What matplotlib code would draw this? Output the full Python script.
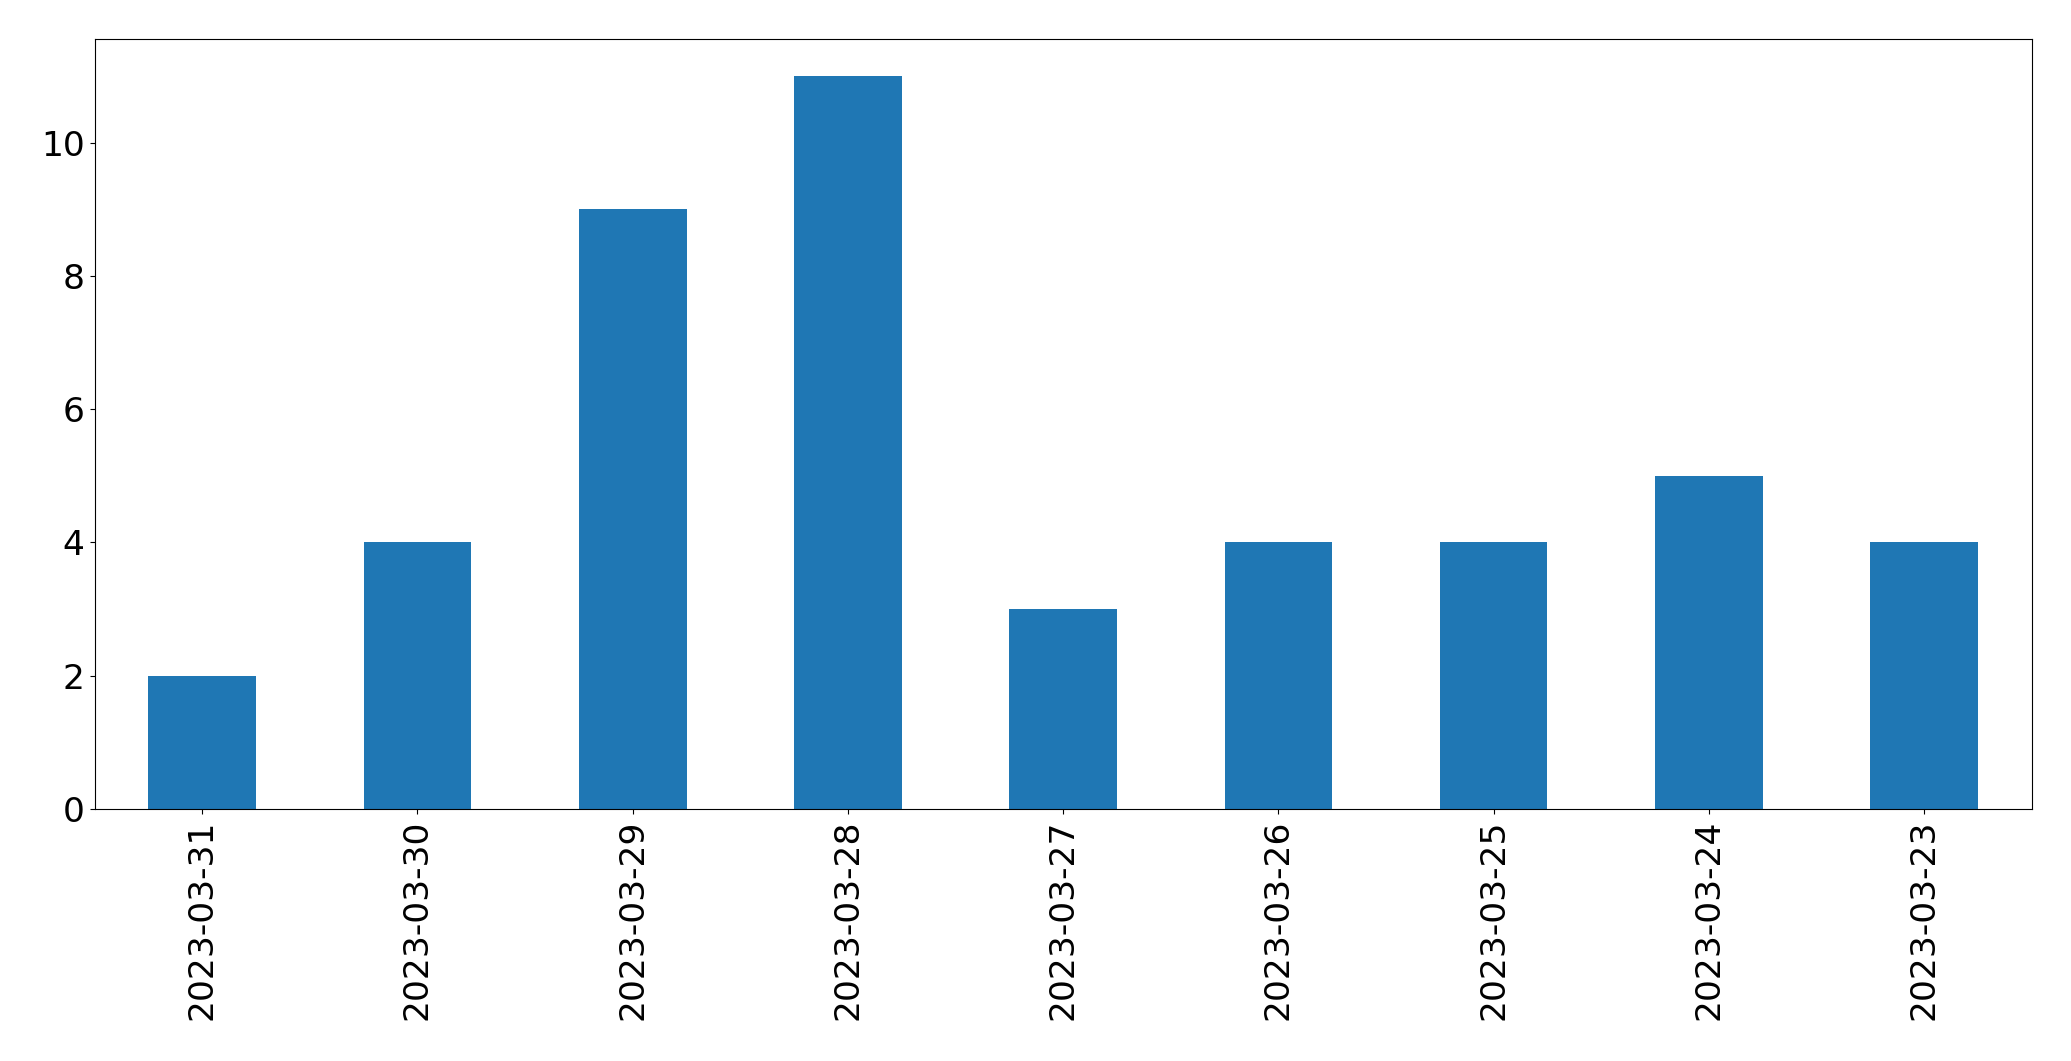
import matplotlib
matplotlib.use("Agg")
import matplotlib.pyplot as plt

dates = ["2023-03-31", "2023-03-30", "2023-03-29", "2023-03-28", "2023-03-27",
         "2023-03-26", "2023-03-25", "2023-03-24", "2023-03-23"]
counts = [2, 4, 9, 11, 3, 4, 4, 5, 4]

fig, ax = plt.subplots(figsize=(20.71, 10.61), dpi=100)
fig.subplots_adjust(left=0.0457, right=0.981, top=0.963, bottom=0.2375)
x = range(len(dates))
ax.bar(x, counts, width=0.5, color="#1f77b4")
ax.set_xlim(-0.5, len(dates) - 0.5)
ax.set_xticks(list(x))
ax.set_xticklabels(dates, rotation=90)
ax.tick_params(labelsize=24.8, length=3.8)
ax.set_yticks([0, 2, 4, 6, 8, 10])
fig.savefig("out.png", dpi=100)
